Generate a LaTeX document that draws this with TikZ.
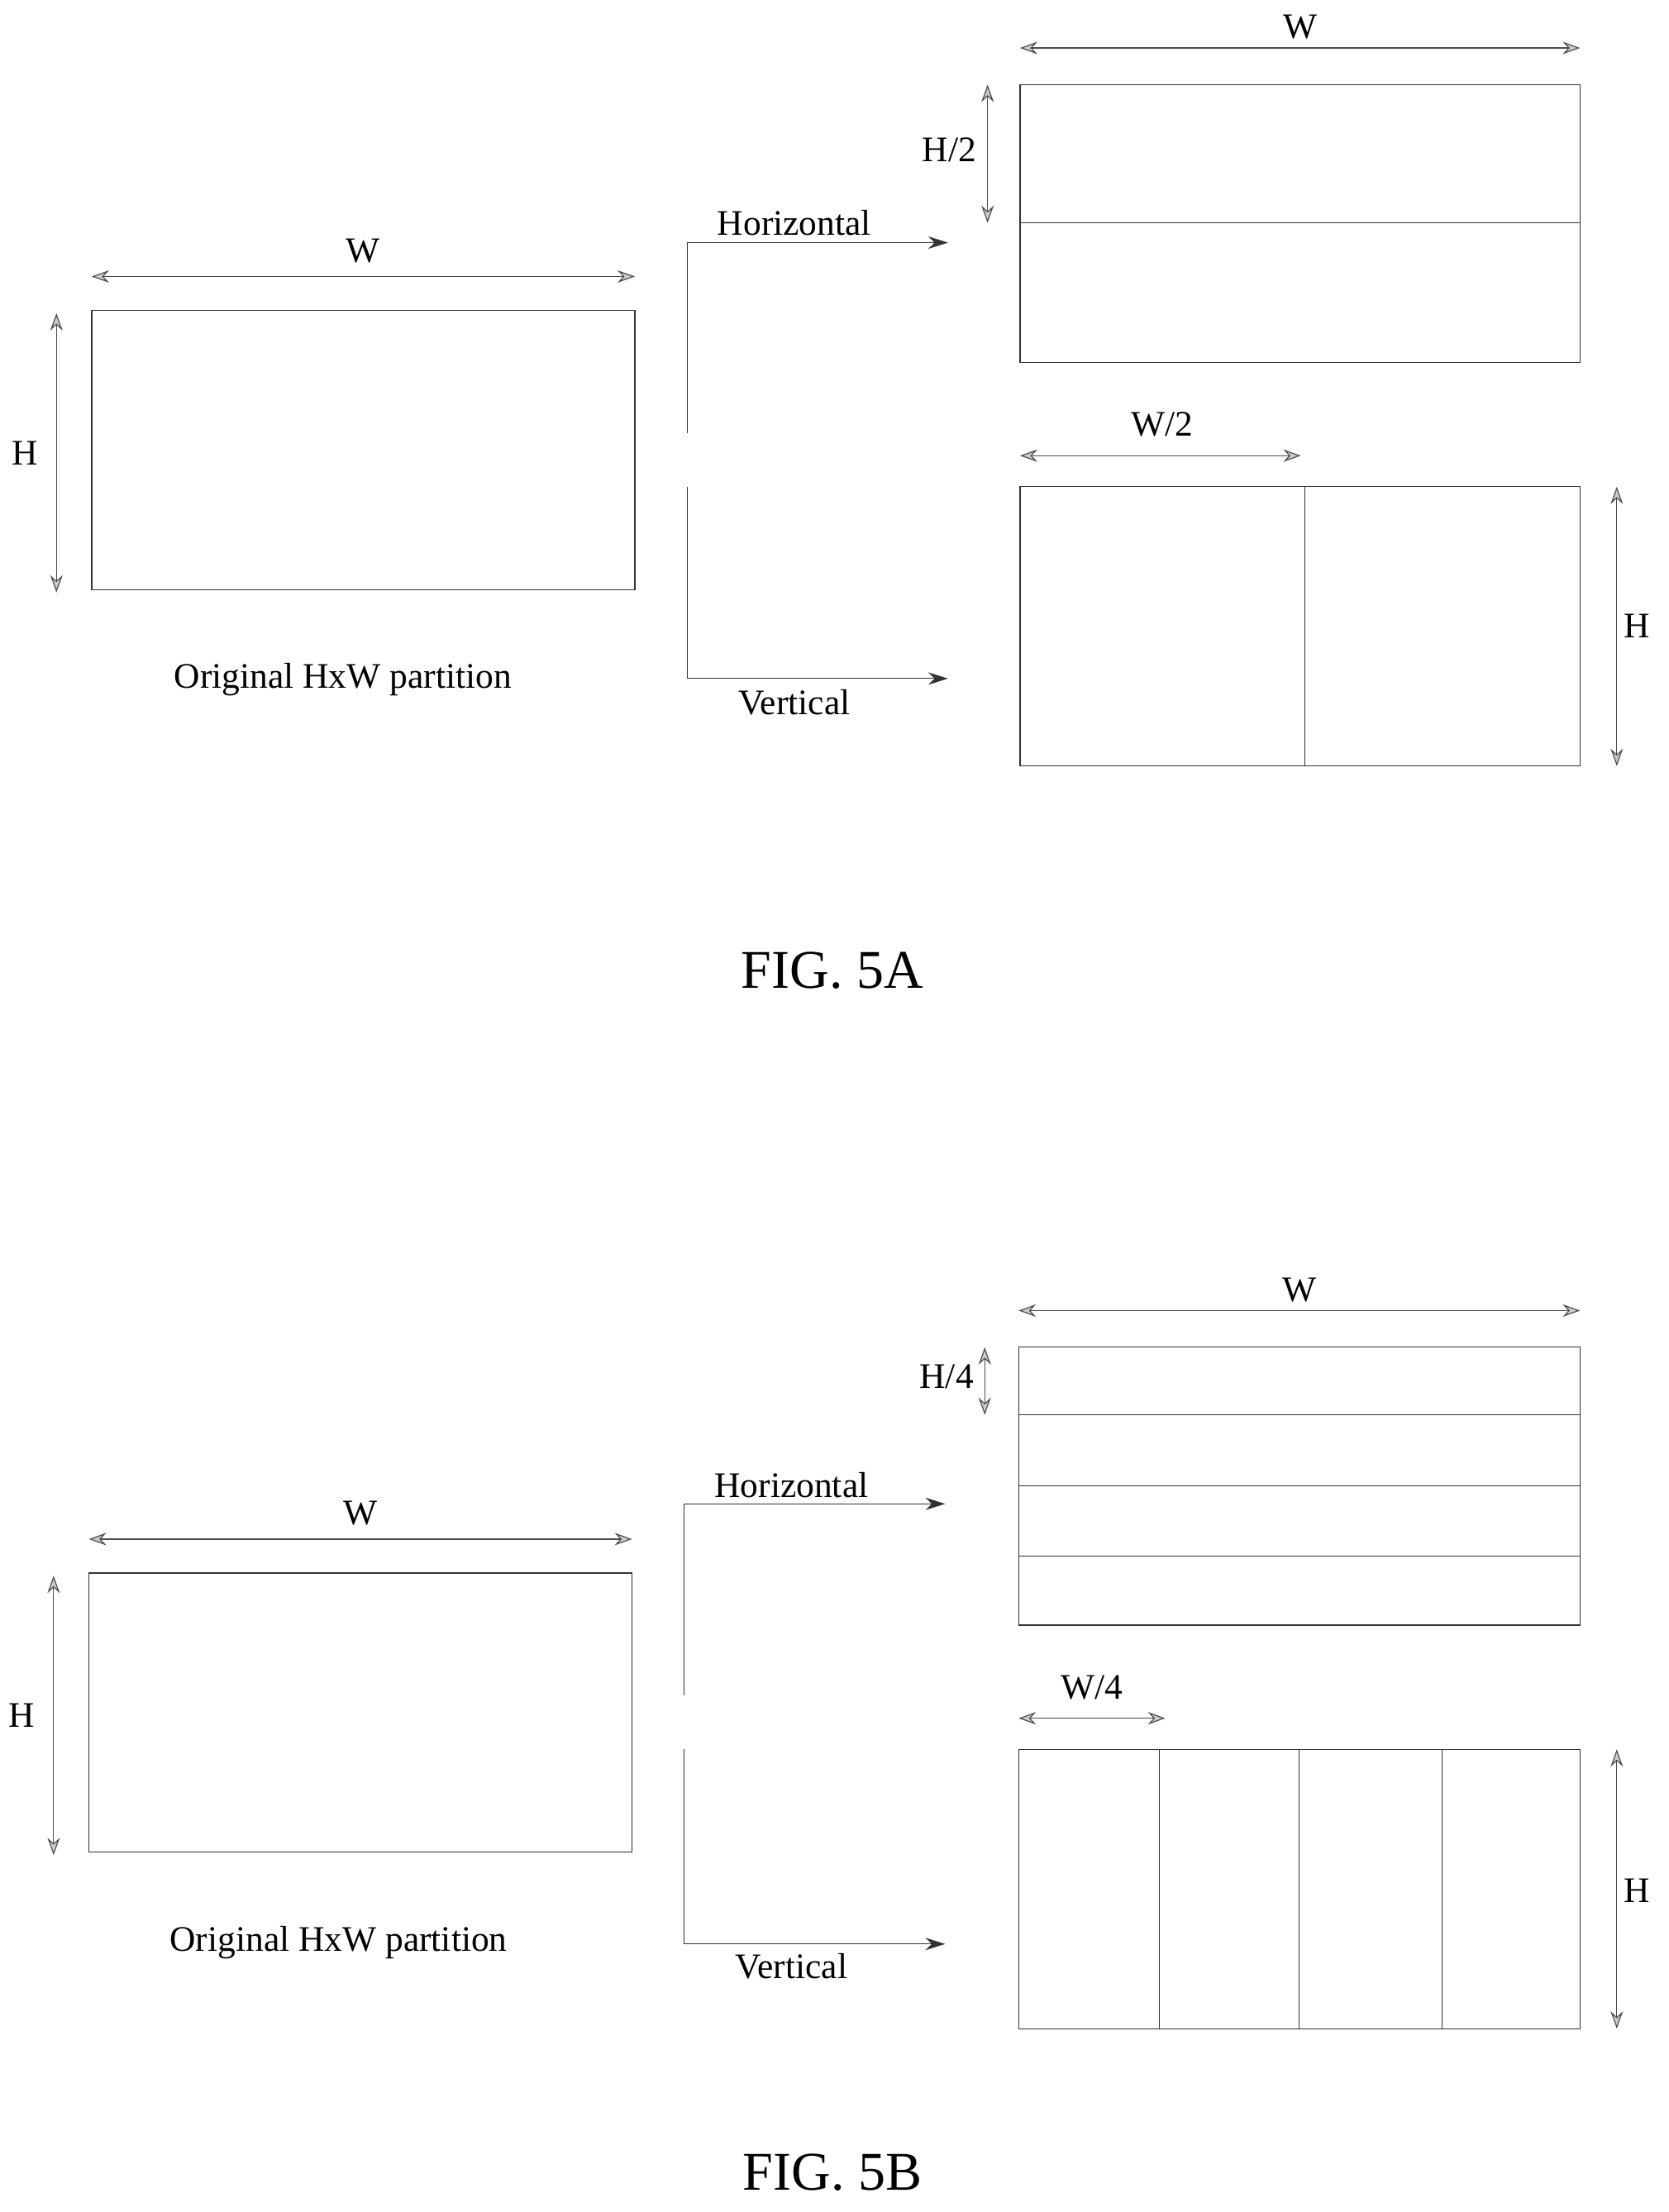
\documentclass[tikz,border=0pt]{standalone}
\usepackage{fontspec}
\setmainfont{Liberation Serif}
\usetikzlibrary{positioning}
\usetikzlibrary{arrows.meta}
\begin{document}
\begin{tikzpicture}
	[x=0.02cm,y=-0.02cm,font=\fontsize{14.5}{16}\selectfont,
	dim/.style={{Stealth[length=7pt,width=5pt,fill=gray!40]}-{Stealth[length=7pt,width=5pt,fill=gray!40]},gray!60!black,text=black,thin},
	flow/.style={->,>={Stealth[length=8pt,width=5pt]},black!80},
	part/.style={draw,black!80,thin},
	fig/.style={font=\fontsize{22}{26}\selectfont}]
	\useasboundingbox (0,0) rectangle (1183,1568);
	% FIG. 5A
	\draw[part] (65,220) rectangle (450,418);
	\coordinate (wa1) at (65,196); \coordinate (wa2) at (450,196);
	\draw[dim] (wa1) -- (wa2) node[midway,above=2pt] (wa) {W};
	\coordinate (ha1) at (40,222); \coordinate (ha2) at (40,420);
	\draw[dim] (ha1) -- (ha2) node[midway,left=4pt] (ha) {H};
	\node (origa) at (243,482) {Original HxW partition};
	\coordinate (hsa) at (487,307); \coordinate (hca) at (487,172); \coordinate (hea) at (672,172);
	\draw[flow] (hsa) -- (hca) -- (hea);
	\node (horza) at (563,158) {Horizontal};
	\coordinate (vsa) at (487,345); \coordinate (vca) at (487,481); \coordinate (vea) at (672,481);
	\draw[flow] (vsa) -- (vca) -- (vea);
	\node (verta) at (563,498) {Vertical};
	\draw[part] (723,60) rectangle (1120,257);
	\draw[part] (723,158) -- (1120,158);
	\coordinate (wb1) at (723,34); \coordinate (wb2) at (1120,34);
	\draw[dim] (wb1) -- (wb2) node[midway,above=0pt] (wb) {W};
	\coordinate (hb1) at (700,60); \coordinate (hb2) at (700,158);
	\draw[dim] (hb1) -- (hb2);
	\node (hhalf) at (673,106) {H/2};
	\draw[part] (723,345) rectangle (1120,543);
	\draw[part] (925,345) -- (925,543);
	\coordinate (wc1) at (723,323); \coordinate (wc2) at (922,323);
	\draw[dim] (wc1) -- (wc2);
	\node (whalf) at (824,301) {W/2};
	\coordinate (hc1) at (1146,345); \coordinate (hc2) at (1146,543);
	\draw[dim] (hc1) -- (hc2);
	\node (hc) at (1160,444) {H};
	\node[fig] (figa) at (590,688) {FIG. 5A};
	% FIG. 5B
	\draw[part] (63,1115) rectangle (448,1313);
	\coordinate (wd1) at (63,1091); \coordinate (wd2) at (448,1091);
	\draw[dim] (wd1) -- (wd2) node[midway,above=2pt] (wd) {W};
	\coordinate (hd1) at (38,1117); \coordinate (hd2) at (38,1315);
	\draw[dim] (hd1) -- (hd2) node[midway,left=4pt] (hd) {H};
	\node (origb) at (240,1377) {Original HxW partition};
	\coordinate (hsb) at (485,1202); \coordinate (hcb) at (485,1066); \coordinate (heb) at (670,1066);
	\draw[flow] (hsb) -- (hcb) -- (heb);
	\node (horzb) at (561,1053) {Horizontal};
	\coordinate (vsb) at (485,1240); \coordinate (vcb) at (485,1378); \coordinate (veb) at (670,1378);
	\draw[flow] (vsb) -- (vcb) -- (veb);
	\node (vertb) at (561,1394) {Vertical};
	\draw[part] (722,955) rectangle (1120,1152);
	\draw[part] (722,1003) -- (1120,1003);
	\draw[part] (722,1053) -- (1120,1053);
	\draw[part] (722,1103) -- (1120,1103);
	\coordinate (we1) at (722,929); \coordinate (we2) at (1120,929);
	\draw[dim] (we1) -- (we2) node[midway,above=0pt] (we) {W};
	\coordinate (he1) at (698,955); \coordinate (he2) at (698,1003);
	\draw[dim] (he1) -- (he2);
	\node (hquart) at (671,976) {H/4};
	\draw[part] (722,1240) rectangle (1120,1438);
	\draw[part] (822,1240) -- (822,1438);
	\draw[part] (921,1240) -- (921,1438);
	\draw[part] (1022,1240) -- (1022,1438);
	\coordinate (wf1) at (722,1218); \coordinate (wf2) at (826,1218);
	\draw[dim] (wf1) -- (wf2);
	\node (wquart) at (774,1196) {W/4};
	\coordinate (hf1) at (1146,1240); \coordinate (hf2) at (1146,1438);
	\draw[dim] (hf1) -- (hf2);
	\node (hf) at (1160,1340) {H};
	\node[fig] (figb) at (590,1540) {FIG. 5B};
\end{tikzpicture}
\end{document}
